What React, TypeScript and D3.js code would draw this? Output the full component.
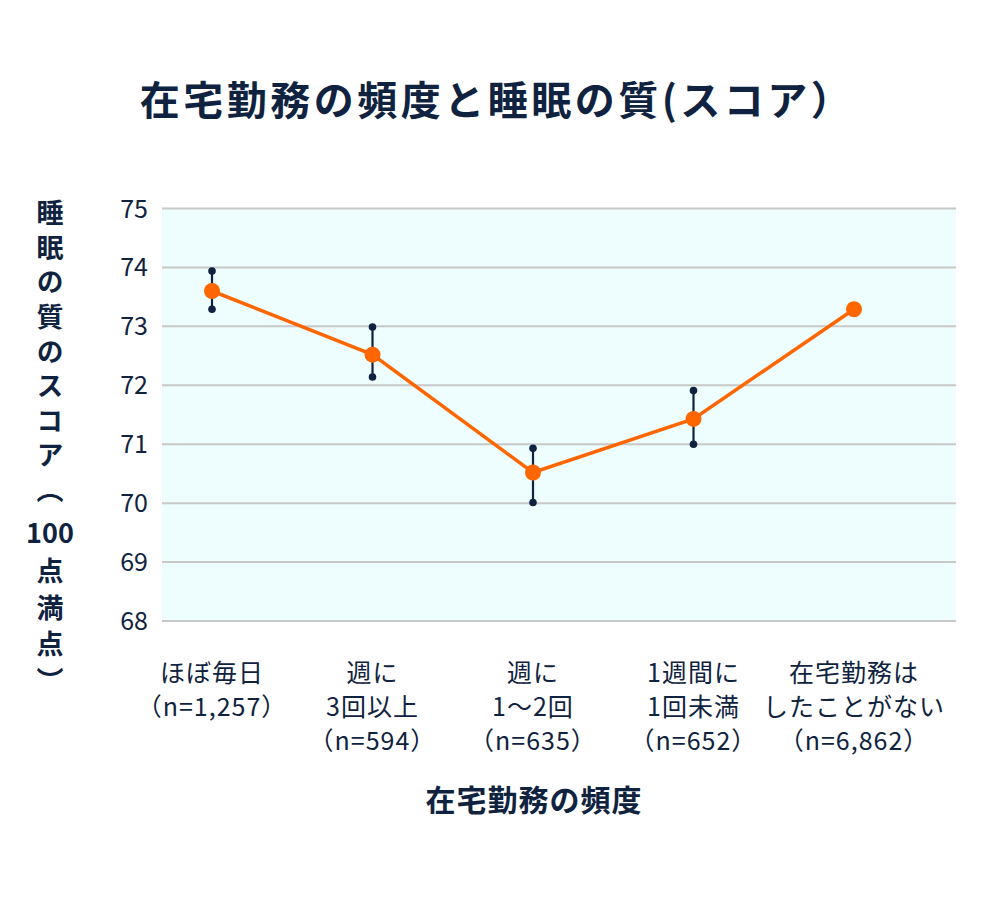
import React from "react";
import * as d3 from "d3";

const categories = ["ほぼ毎日", "週に3回以上", "週に1〜2回", "1週間に1回未満", "在宅勤務はしたことがない"];
const labelLines = [
  ["ほぼ毎日", "（n=1,257）"],
  ["週に", "3回以上", "（n=594）"],
  ["週に", "1〜2回", "（n=635）"],
  ["1週間に", "1回未満", "（n=652）"],
  ["在宅勤務は", "したことがない", "（n=6,862）"],
];
const scores = [73.6, 72.52, 70.52, 71.43, 73.29];
const errLow: (number | null)[] = [73.29, 72.14, 70.01, 71.0, null];
const errHigh: (number | null)[] = [73.94, 72.99, 70.93, 71.91, null];
const yTicks = [68, 69, 70, 71, 72, 73, 74, 75];
const yLabelTop = "睡眠の質のスコア（";
const yLabelMid = "100";
const yLabelBottom = "点満点）";

const W = 1000;
const H = 900;
const plot = { left: 162, right: 956, top: 208.5, bottom: 621 };
const NAVY = "#0f2340";
const ORANGE = "#ff6600";
const FONT = "'Noto Sans CJK JP', 'Noto Sans', sans-serif";

export default function App() {
  const x = d3.scalePoint<string>().domain(categories).range([212, 854]);
  const y = d3.scaleLinear().domain([68, 75]).range([plot.bottom, plot.top]);
  const line = d3
    .line<number>()
    .x((_, i) => x(categories[i]) as number)
    .y((d) => y(d));

  const vStyle: React.CSSProperties = { writingMode: "vertical-rl" as any };

  return (
    <svg width={W} height={H} style={{ display: "block", position: "absolute", left: 0, top: 0 }} fontFamily={FONT}>
      <rect x={0} y={0} width={W} height={H} fill="#ffffff" />
      <text x={497} y={115} textAnchor="middle" fontSize={40} fontWeight={700} fill={NAVY} letterSpacing={3.5}>
        在宅勤務の頻度と睡眠の質(スコア）
      </text>
      <rect x={plot.left} y={plot.top} width={plot.right - plot.left} height={plot.bottom - plot.top} fill="#eefefe" />
      {yTicks.map((t) => (
        <g key={t}>
          <line x1={plot.left} x2={plot.right} y1={y(t)} y2={y(t)} stroke="#c8c8c8" strokeWidth={2} />
          <text x={148} y={y(t)} dy="0.36em" textAnchor="end" fontSize={25} fill={NAVY}>
            {t}
          </text>
        </g>
      ))}
      <text x={50} y={199.5} style={vStyle} fontSize={27} fontWeight={700} fill={NAVY} letterSpacing={7.6}>
        {yLabelTop}
      </text>
      <text x={50} y={533} dy="0.36em" textAnchor="middle" fontSize={27} fontWeight={700} fill={NAVY}>
        {yLabelMid}
      </text>
      <text x={50} y={557.5} style={vStyle} fontSize={27} fontWeight={700} fill={NAVY} letterSpacing={9.5}>
        {yLabelBottom}
      </text>
      <path d={line(scores) || ""} fill="none" stroke={ORANGE} strokeWidth={3.5} />
      {scores.map((s, i) => {
        const cx = x(categories[i]) as number;
        const lo = errLow[i];
        const hi = errHigh[i];
        return (
          <g key={i}>
            {lo !== null && hi !== null && (
              <g>
                <line x1={cx} x2={cx} y1={y(lo)} y2={y(hi)} stroke={NAVY} strokeWidth={2.2} />
                <circle cx={cx} cy={y(lo)} r={3.8} fill={NAVY} />
                <circle cx={cx} cy={y(hi)} r={3.8} fill={NAVY} />
              </g>
            )}
            <circle cx={cx} cy={y(s)} r={8} fill={ORANGE} />
          </g>
        );
      })}
      {labelLines.map((lines, i) => (
        <text key={i} textAnchor="middle" fontSize={25} fill={NAVY} letterSpacing={1}>
          {lines.map((l, j) => (
            <tspan key={j} x={x(categories[i]) as number} y={673 + j * 34} dy="0.36em">
              {l}
            </tspan>
          ))}
        </text>
      ))}
      <text x={534} y={800} dy="0.36em" textAnchor="middle" fontSize={30} fontWeight={700} fill={NAVY} letterSpacing={1}>
        在宅勤務の頻度
      </text>
    </svg>
  );
}
